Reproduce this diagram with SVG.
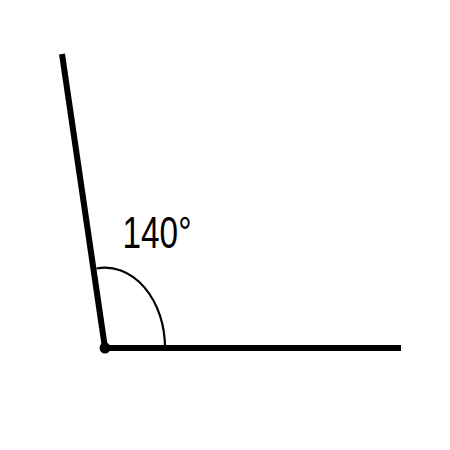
<svg xmlns="http://www.w3.org/2000/svg" width="450" height="450" viewBox="0 0 450 450">
<style>
.ray{stroke:#000;stroke-width:6;stroke-linecap:butt;fill:none}
.arc{stroke:#000;stroke-width:2.2;fill:none}
.lbl{font-family:"Liberation Sans",Arial,sans-serif;font-size:45px;fill:#000}
</style>
<rect width="450" height="450" fill="#fff"/>
<g id="connectors">
<line class="ray" x1="105" y1="348" x2="401" y2="348"/>
<line class="ray" x1="105" y1="348" x2="62" y2="54"/>
<path class="arc" d="M165,348 A60,80 0 0 0 96.5,268.5"/>
</g>
<g id="vertex"><circle cx="105" cy="348" r="5.5" fill="#000"/></g>
<g id="label"><text class="lbl" x="122.5" y="248" textLength="69" lengthAdjust="spacingAndGlyphs">140°</text></g>
</svg>
